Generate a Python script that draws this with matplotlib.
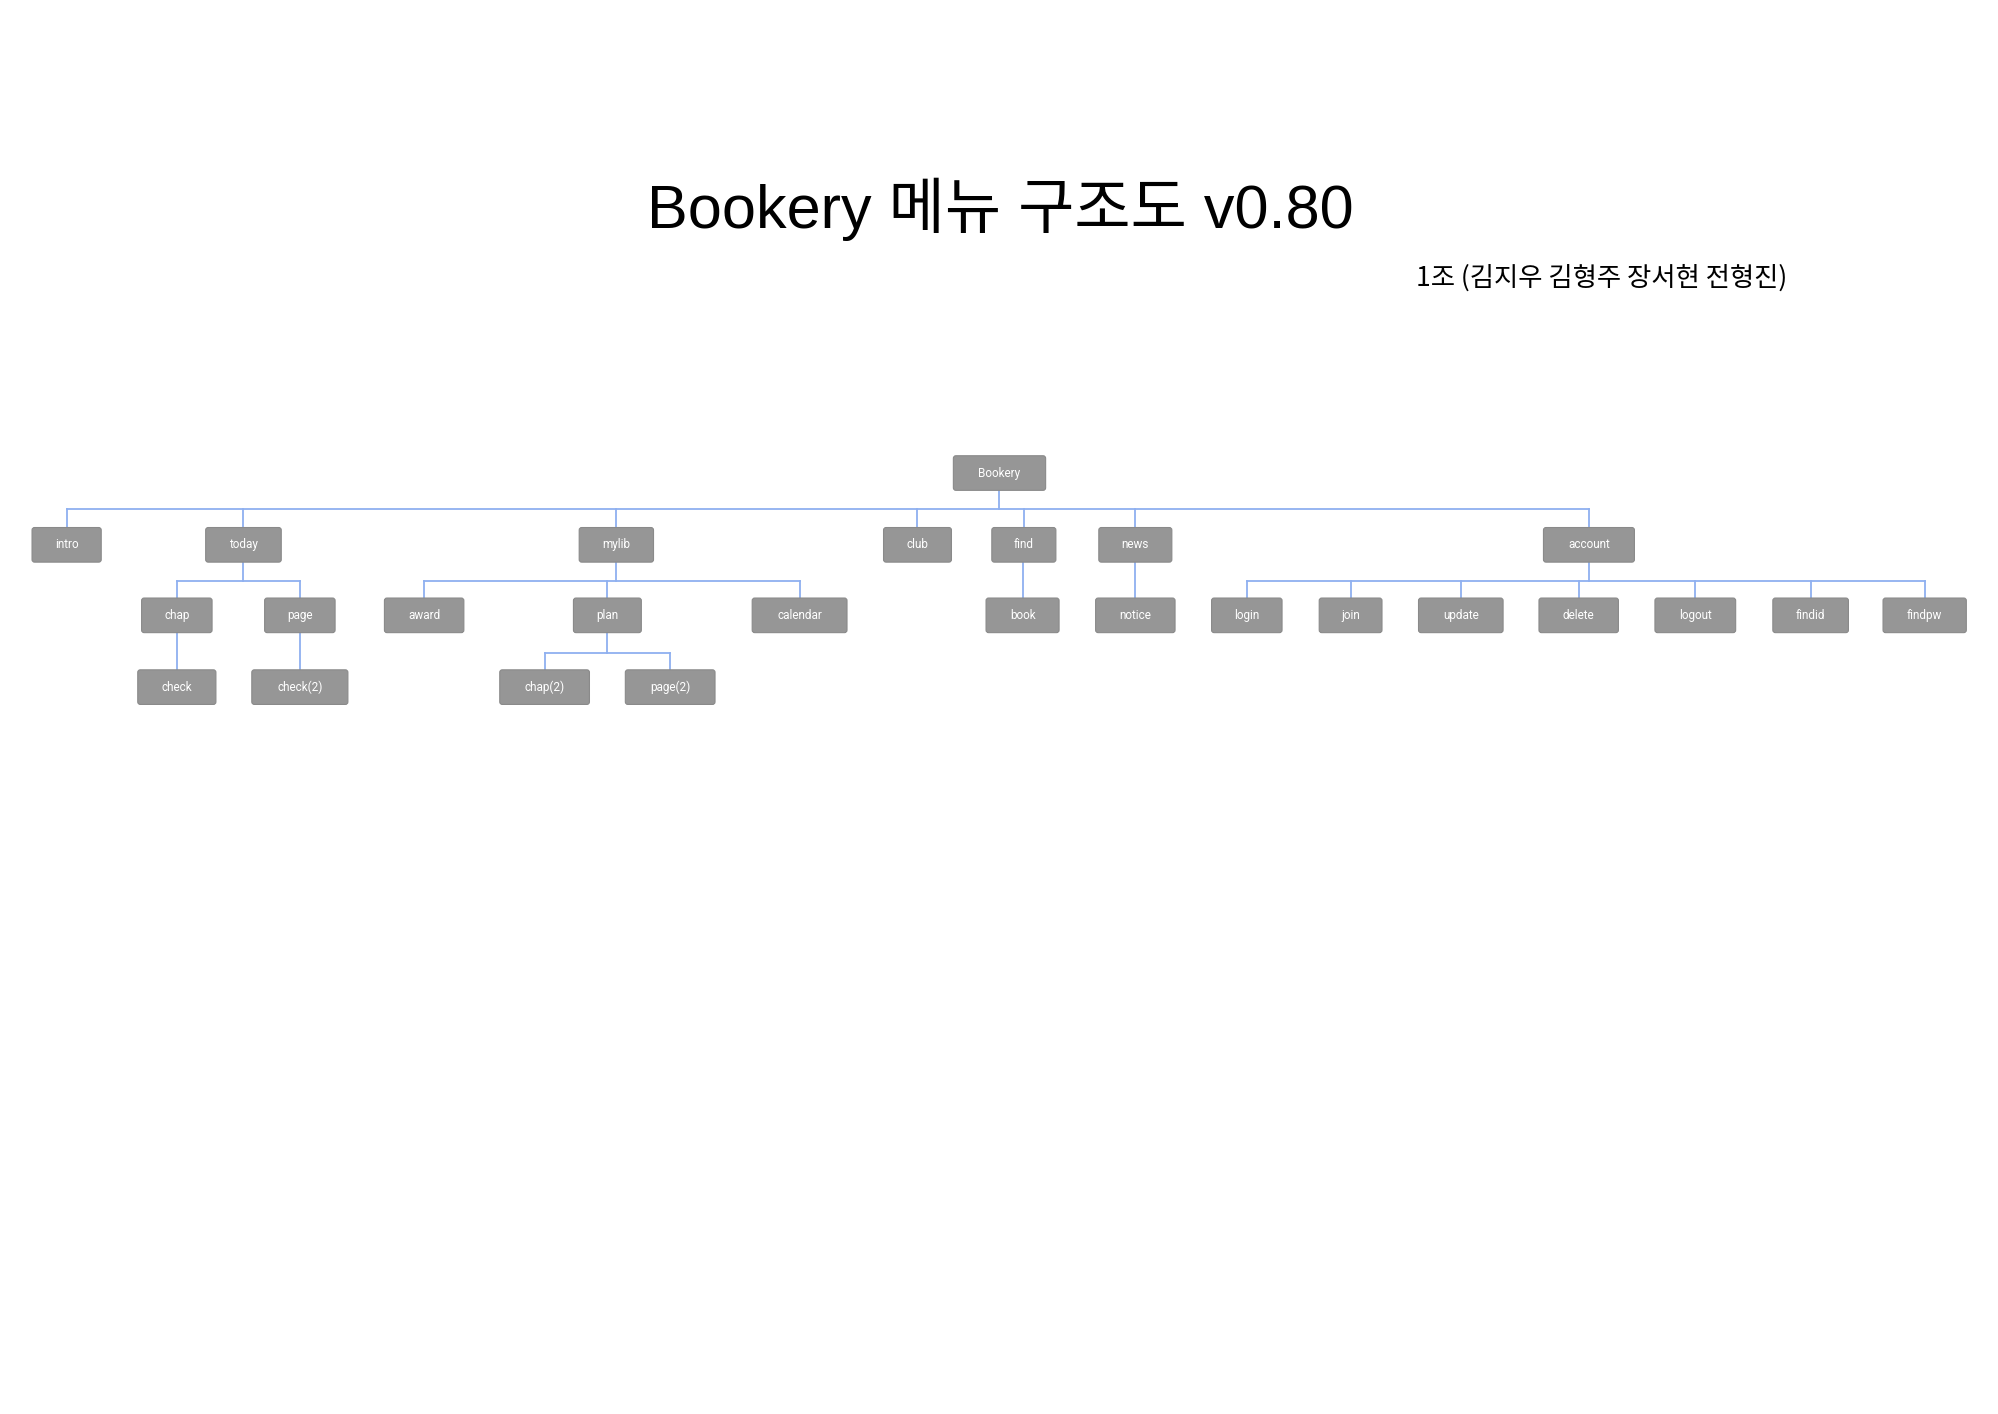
import matplotlib
matplotlib.use("Agg")
import matplotlib.pyplot as plt
from matplotlib.patches import FancyBboxPatch

# nodes: name, parent, center x, level y, box width (page coordinates)
names   = ["Bookery","intro","today","mylib","club","find","news","account",
           "chap","page","award","plan","calendar","book","notice",
           "login","join","update","delete","logout","findid","findpw",
           "check","check(2)","chap(2)","page(2)"]
parents = [None,"Bookery","Bookery","Bookery","Bookery","Bookery","Bookery","Bookery",
           "today","today","mylib","mylib","mylib","find","news",
           "account","account","account","account","account","account","account",
           "chap","page","plan","plan"]
xs      = [780,52,190,481,716,799,886,1240,
           138,234,331,474,624,798,886,
           973,1054,1140,1232,1323,1413,1502,
           138,234,425,523]
ys      = [369,425,425,425,425,425,425,425,
           480,480,480,480,480,480,480,
           480,480,480,480,480,480,480,
           536,536,536,536]
widths  = [72,54,59,58,53,50,57,71,
           55,55,62,53,74,57,62,
           55,49,66,62,63,59,65,
           61,75,70,70]
bar_y = {"Bookery":397,"today":453,"mylib":453,"account":453,"plan":509,"find":None,"news":None}

W, H = 1560, 1103
fig = plt.figure(figsize=(19.99, 14.14), dpi=100)
ax = fig.add_axes([0, 0, 1, 1])
ax.set_xlim(0, W); ax.set_ylim(H, 0); ax.axis("off")

BH = 27
line_c = "#8fb0f0"
pos = {n: (x, y) for n, x, y in zip(names, xs, ys)}
children = {}
for n, p in zip(names, parents):
    if p: children.setdefault(p, []).append(n)

for p, ch in children.items():
    px, py = pos[p]
    by = bar_y.get(p)
    if by is None:
        for c in ch:
            ax.plot([pos[c][0], pos[c][0]], [py + BH/2, pos[c][1] - BH/2], color=line_c, lw=1.3, zorder=1)
        continue
    cx = [pos[c][0] for c in ch]
    ax.plot([px, px], [py + BH/2, by], color=line_c, lw=1.3, zorder=1)
    ax.plot([min(cx + [px]), max(cx + [px])], [by, by], color=line_c, lw=1.3, zorder=1)
    for c in ch:
        ax.plot([pos[c][0], pos[c][0]], [by, pos[c][1] - BH/2], color=line_c, lw=1.3, zorder=1)

for n, x, y, w in zip(names, xs, ys, widths):
    ax.add_patch(FancyBboxPatch((x - w/2, y - BH/2), w, BH,
                                boxstyle="round,pad=0,rounding_size=2",
                                fc="#969696", ec="#8a8a8a", lw=0.8, zorder=2))
    ax.text(x, y, n, ha="center", va="center", color="white",
            fontsize=8.5, family="Roboto", zorder=3)

fam = ["Liberation Sans", "Noto Sans CJK KR"]
ax.text(781, 163, "Bookery 메뉴 구조도 v0.80", ha="center", va="center",
        fontsize=44, family=fam, color="black")
ax.text(1105, 217, "1조 (김지우 김형주 장서현 전형진)", ha="left", va="center",
        fontsize=19, family=["Noto Sans CJK KR", "DejaVu Sans"], color="black")

fig.savefig("out.png", dpi=100, facecolor="white")
